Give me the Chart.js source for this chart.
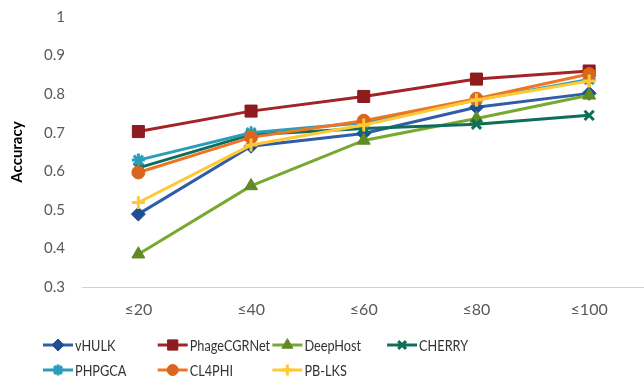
<!DOCTYPE html>
<html>
<head>
<meta charset="utf-8">
<script src="https://cdn.jsdelivr.net/npm/chart.js@4.4.1/dist/chart.umd.min.js"></script>
<style>
  html, body { margin: 0; padding: 0; background: #fff; overflow: hidden; }
  canvas { display: block; }
</style>
</head>
<body>
<canvas id="acc-chart" width="655" height="388"></canvas>
<script>
// data
const categories = ['≤20', '≤40', '≤60', '≤80', '≤100'];
const yTicks = [0.3, 0.4, 0.5, 0.6, 0.7, 0.8, 0.9, 1];

const vHULK       = [0.489, 0.665, 0.698, 0.766, 0.802];
const phageCGRNet = [0.703, 0.756, 0.794, 0.839, 0.860];
const deepHost    = [0.385, 0.562, 0.680, 0.737, 0.797];
const cherry      = [0.609, 0.695, 0.711, 0.722, 0.745];
const phpgca      = [0.629, 0.700, 0.726, 0.785, 0.838];
const cl4phi      = [0.597, 0.688, 0.731, 0.788, 0.852];
const pbLKS       = [0.519, 0.668, 0.720, 0.785, 0.834];

const font = "Lato, 'Liberation Sans', sans-serif";

function series(label, data, line, marker, style, radius, bw) {
  return {
    label: label,
    data: data,
    borderColor: line,
    backgroundColor: marker,
    borderWidth: 3,
    pointStyle: style,
    pointRadius: radius,
    pointHoverRadius: radius,
    pointBackgroundColor: marker,
    pointBorderColor: marker,
    pointBorderWidth: bw,
    tension: 0,
    fill: false
  };
}

const datasets = [
  series('vHULK', vHULK, '#2F5DAA', '#1F4E96', 'rectRot', 7, 1),
  series('PhageCGRNet', phageCGRNet, '#A32326', '#8E1B1E', 'rect', 8.5, 1),
  series('DeepHost', deepHost, '#77A830', '#5E8B23', 'triangle', 7.5, 1),
  series('CHERRY', cherry, '#0E6E5C', '#0E6E5C', 'crossRot', 6.5, 3),
  series('PHPGCA', phpgca, '#2C9DB9', '#2C9DB9', 'star', 6.5, 3),
  series('CL4PHI', cl4phi, '#EE7522', '#D9661C', 'circle', 6.5, 1),
  series('PB-LKS', pbLKS, '#FFC935', '#FFC935', 'cross', 6.5, 3)
];
// later series are drawn on top, like the original
datasets.forEach((d, i) => { d.order = -i; });

// two-row legend in fixed columns below the axis
const gridLegend = {
  id: 'gridLegend',
  afterDraw(chart) {
    const ctx = chart.ctx;
    const cols = 4, colW = 114.7, x0 = 43, rows = [345, 370];
    ctx.save();
    ctx.font = '15.5px ' + font;
    ctx.textBaseline = 'middle';
    chart.data.datasets.forEach((ds, i) => {
      const x = x0 + (i % cols) * colW;
      const y = rows[Math.floor(i / cols)];
      ctx.strokeStyle = ds.borderColor;
      ctx.lineWidth = 3;
      ctx.beginPath();
      ctx.moveTo(x, y);
      ctx.lineTo(x + 30, y);
      ctx.stroke();
      ctx.fillStyle = ds.pointBackgroundColor;
      ctx.strokeStyle = ds.pointBorderColor;
      ctx.lineWidth = ds.pointBorderWidth;
      Chart.helpers.drawPoint(ctx, {
        pointStyle: ds.pointStyle,
        radius: ds.pointRadius * 0.85,
        borderWidth: ds.pointBorderWidth,
        rotation: 0
      }, x + 15, y);
      ctx.fillStyle = '#333333';
      // the original face is narrower, so squeeze the text a little
      const w = ctx.measureText(ds.label).width;
      ctx.fillText(ds.label, x + 32, y + 1, w * 0.82);
    });
    ctx.restore();
  }
};

const ctx = document.getElementById('acc-chart').getContext('2d');
const accChart = new Chart(ctx, {
  type: 'line',
  data: { labels: categories, datasets: datasets },
  options: {
    responsive: false,
    animation: false,
    layout: { padding: { top: 17, right: 0, bottom: 66, left: 0 } },
    scales: {
      x: {
        offset: true,
        grid: { display: false, drawTicks: false },
        border: { display: true, color: '#D0D0D0', width: 1 },
        ticks: { color: '#595959', padding: 13, font: { family: font, size: 16 } },
        afterFit(scale) { scale.height = 35; scale.paddingLeft = 0; scale.paddingRight = 0; }
      },
      y: {
        min: 0.3,
        max: 1,
        afterBuildTicks(scale) { scale.ticks = yTicks.map(v => ({ value: v })); },
        grid: { display: false, drawTicks: false },
        border: { display: false },
        ticks: {
          color: '#595959',
          padding: 17,
          font: { family: font, size: 15 },
          callback: v => String(Math.round(v * 10) / 10)
        },
        title: {
          display: true,
          text: 'Accuracy',
          color: '#000',
          padding: { top: 8, bottom: 0 },
          font: { family: font, size: 15, weight: 'bold' }
        },
        afterFit(scale) { scale.width = 82; scale.paddingTop = 0; scale.paddingBottom = 0; }
      }
    },
    plugins: {
      legend: { display: false },
      tooltip: { enabled: false }
    }
  },
  plugins: [gridLegend]
});
</script>
</body>
</html>
